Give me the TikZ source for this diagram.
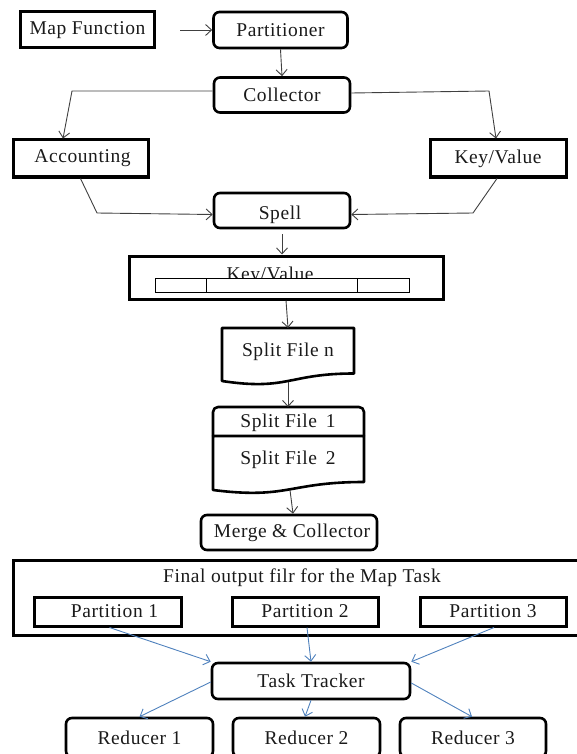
\documentclass[tikz,border=0pt]{standalone}
\usepackage{fontspec}
\setmainfont[LetterSpace=3]{Liberation Serif}
\usetikzlibrary{arrows.meta}
\definecolor{conn}{HTML}{404040}
\definecolor{blueconn}{HTML}{4F81BD}
\definecolor{txt}{HTML}{1A1A1A}
\tikzset{
  lbl/.style={text=txt, font=\fontsize{19.5}{22}\selectfont, inner sep=0pt},
  sqbox/.style={lbl, draw=black, line width=3pt, minimum height=36pt},
  rbox/.style={sqbox, rounded corners=6pt, line width=2.6pt},
  docline/.style={draw=black, line width=2.6pt, line join=round},
  conline/.style={draw=conn, line width=0.9pt},
  arr/.style={conline, -{Straight Barb[length=6pt,width=11pt,line width=0.9pt]}},
  barr/.style={draw=blueconn, line width=0.9pt, -{Straight Barb[length=6pt,width=11pt,line width=0.9pt]}},
  cellline/.style={draw=black, line width=0.8pt}
}
\begin{document}
\begin{tikzpicture}[x=1pt,y=-1pt]
\useasboundingbox (0,0) rectangle (577,754);
% top row
\node[sqbox, minimum width=134pt] (mapf) at (87.5,30) {Map Function};
\node[rbox, minimum width=134pt] (part) at (280.5,30) {Partitioner};
\node[rbox, minimum width=136pt, minimum height=35pt] (coll) at (282,95) {Collector};
\node[sqbox, minimum width=135pt, minimum height=37pt] (acc) at (80.5,158.5) {\hspace*{4pt}Accounting};
\node[sqbox, minimum width=136pt, minimum height=37pt] (kv1) at (498,158.5) {Key/Value};
\node[rbox, minimum width=136pt, minimum height=35pt] (spell) at (282,210.5) {};
\node[lbl] (spelltxt) at (280,215) {Spell};
% big key/value box
\node[sqbox, minimum width=314pt, minimum height=43pt] (kvbig) at (286,277.5) {};
\node[lbl, anchor=base] (kvtxt) at (270,280) {Key/Value};
\draw[cellline, fill=white] (155,278) rectangle (409,292);
\draw[cellline] (206,278) -- (206,292);
\draw[cellline] (357,278) -- (357,292);
% split file n
\draw[docline] (222,328) -- (354,328) -- (354,373.5) .. controls (288,373.5) and (288,391) .. (222,381) -- cycle;
\node[lbl] (sfn) at (288,352) {Split File n};
\coordinate (sfnbot) at (288,382);
\coordinate (sfntop) at (288,328);
% split file 1 and 2
\draw[docline, rounded corners=5pt] (213,436) -- (213,407) -- (364,407) -- (364,436);
\draw[docline] (213,436) -- (364,436) -- (364,482) .. controls (288.5,482) and (288.5,499.5) .. (213,490) -- cycle;
\node[lbl] (sf1) at (288,423) {Split File\, 1};
\node[lbl] (sf2) at (288,460) {Split File\, 2};
\coordinate (sf1top) at (288,407);
\coordinate (sf2bot) at (290,490);
\node[rbox, minimum width=176pt, minimum height=35pt] (merge) at (289,532.5) {\hspace*{6pt}Merge \& Collector};
% final output
\node[sqbox, minimum width=570pt, minimum height=75pt] (final) at (298,597.5) {};
\node[lbl] (finaltxt) at (302,578) {Final output filr for the Map Task};
\node[sqbox, minimum width=147pt, minimum height=29pt] (p1) at (107.5,611.5) {\hspace*{14pt}Partition 1};
\node[sqbox, minimum width=146pt, minimum height=29pt] (p2) at (305,611.5) {Partition 2};
\node[sqbox, minimum width=146pt, minimum height=29pt] (p3) at (493,611.5) {Partition 3};
\node[rbox, minimum width=198pt, minimum height=36pt] (tt) at (311,681) {Task Tracker};
\node[rbox, minimum width=147pt, minimum height=39pt] (r1) at (139.5,737.5) {Reducer 1};
\node[rbox, minimum width=147pt, minimum height=39pt] (r2) at (306.5,737.5) {Reducer 2};
\node[rbox, minimum width=146pt, minimum height=39pt] (r3) at (473,737.5) {Reducer 3};
% connectors
\draw[arr] ([xshift=24pt]mapf.east) -- (part.west);
\draw[arr] (part.south) -- (coll.north);
\draw[arr] ([yshift=4pt]coll.west) -- (72,91) -- ([xshift=-17.5pt]acc.north);
\draw[arr] ([yshift=2pt]coll.east) -- (489,91) -- ([xshift=-2pt]kv1.north);
\draw[arr] (acc.south) -- (97,213) -- ([yshift=-4pt]spell.west);
\draw[arr] ([xshift=-1pt]kv1.south) -- (473,213) -- ([yshift=-4pt]spell.east);
\draw[arr] ([yshift=-5pt]spell.south) -- (spell.south |- kvbig.north);
\draw[arr] (kvbig.south) -- (sfntop);
\draw[arr] (sfnbot) -- (sf1top);
\draw[arr] (sf2bot) -- ([xshift=4pt]merge.north);
\draw[barr] ([xshift=2pt]p1.south) -- (tt.north west);
\draw[barr] ([xshift=2pt]p2.south) -- (tt.north);
\draw[barr] ([xshift=1pt]p3.south) -- (tt.north east);
\draw[barr] ([yshift=-1pt]tt.west) -- (r1.north);
\draw[barr] (tt.south) -- ([xshift=-1.5pt]r2.north);
\draw[barr] ([yshift=-2pt]tt.east) -- ([xshift=-1pt]r3.north);
\end{tikzpicture}
\end{document}
